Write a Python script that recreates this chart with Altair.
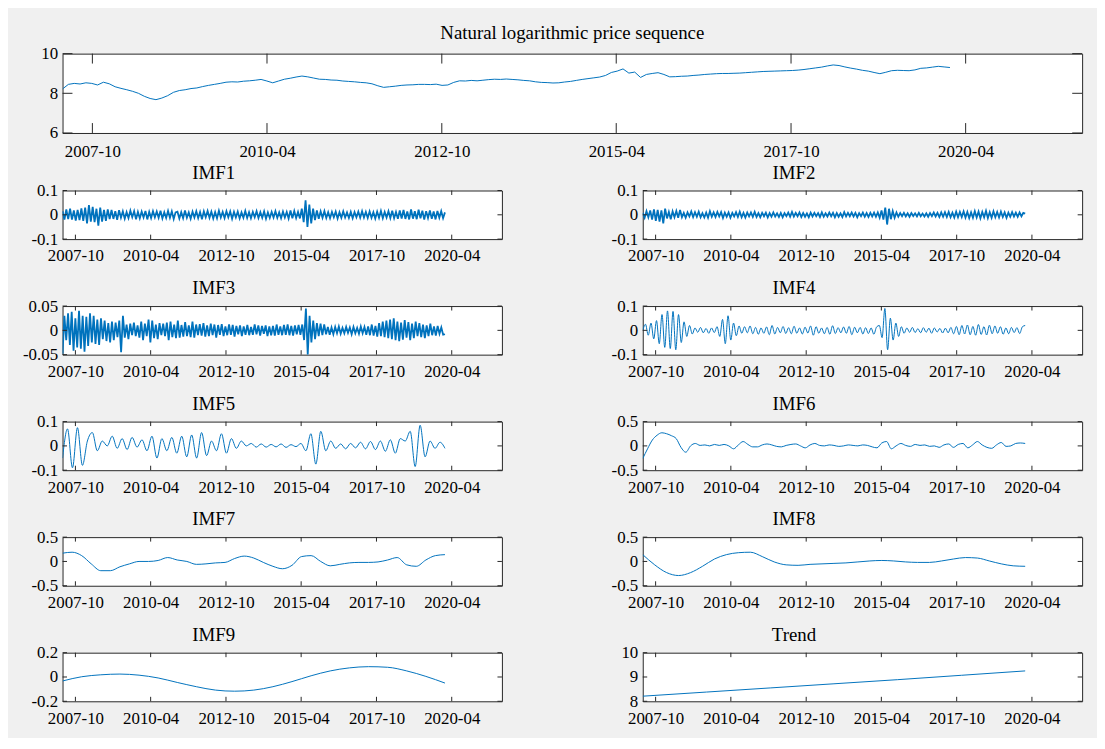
import altair as alt
import pandas as pd

FONT = "Liberation Serif"
BLUE = "#0072BD"
AX = "#262626"
BG = "#f0f0f0"

# ---------------- data ----------------
x_tick_labels = ["2007-10", "2010-04", "2012-10", "2015-04", "2017-10", "2020-04"]
data_start = "2007-04-28"
data_end = "2020-01-10"

# Natural log price, monthly readings
price = [8.22, 8.45, 8.50, 8.47, 8.53, 8.50, 8.42, 8.56, 8.48, 8.33,
         8.25, 8.18, 8.10, 8.00, 7.85, 7.74, 7.68, 7.76, 7.88, 8.05,
         8.14, 8.18, 8.24, 8.27, 8.34, 8.40, 8.45, 8.50, 8.56, 8.58,
         8.57, 8.61, 8.63, 8.66, 8.70, 8.62, 8.53, 8.62, 8.71, 8.76,
         8.82, 8.87, 8.83, 8.77, 8.71, 8.70, 8.67, 8.66, 8.62, 8.60,
         8.58, 8.55, 8.53, 8.48, 8.38, 8.30, 8.33, 8.36, 8.40, 8.42,
         8.43, 8.45, 8.45, 8.44, 8.46, 8.40, 8.42, 8.55, 8.63, 8.62,
         8.65, 8.63, 8.66, 8.69, 8.71, 8.70, 8.72, 8.70, 8.68, 8.65,
         8.63, 8.58, 8.55, 8.54, 8.52, 8.53, 8.57, 8.60, 8.65, 8.70,
         8.74, 8.78, 8.82, 8.90, 9.05, 9.12, 9.23, 9.02, 9.07, 8.80,
         8.95, 9.00, 9.04, 8.95, 8.83, 8.84, 8.86, 8.87, 8.90, 8.92,
         8.95, 8.97, 8.99, 9.00, 9.00, 9.01, 9.02, 9.04, 9.06, 9.08,
         9.10, 9.11, 9.12, 9.13, 9.14, 9.15, 9.17, 9.20, 9.24, 9.28,
         9.32, 9.38, 9.43, 9.40, 9.33, 9.27, 9.22, 9.16, 9.12, 9.05,
         8.99, 9.06, 9.14, 9.16, 9.15, 9.14, 9.18, 9.26, 9.28, 9.32,
         9.36, 9.33, 9.30]

# IMF values in thousandths
imf1_milli = [15, -20, 22, -18, 25, -20, 18, -24, 20, -22, 26, -25, 30, -35, 40, -28, 33, -30, 25, -45, 30, -28, 20, -25, 22, -18, 20, -17, 15, -21, 19,
              -12, 14, -16, 11, -13, 17, -10, 15, -18, 12, -14, 13, -11, 16, -19, 12, -13, 15, -10, 14, -12, 17, -15, 11, -13, 16, -12, 14, -17, 10,
              13, -15, 11, -14, 18, -12, 10, -16, 13, -11, 15, -13, 12, -18, 14, -10, 16, -12, 13, -15, 11, -14, 17, -11, 12, -13, 15, -10, 14, -16,
              12, -11, 13, -15, 10, -12, 16, -13, 11, -14, 12, -10, 15, -13, 11, -12, 14, -16, 10, -13, 12, -11, 15, -12, 10, -14, 13, -11, 12, -15, 18, -14, 16, -13, 12, -15,
              25, -30, 60, -50, 42, -35,
              25, -22, 18, -16, 14, -12, 15, -13, 11, -14, 12, -10, 13, -15, 11, -12, 14, -11, 10, -13, 12, -14, 11, -10, 13, -12, 15, -11, 12, -13, 14, -12,
              11, -15, 13, -12, 16, -14, 12, -11, 15, -13, 17, -14, 12, -16, 18, -15, 20, -17, 14, -19, 22, -16, 15, -18, 21, -14, 17, -20, 15, -13, 18, -16, 14, -19, 16, -12, 15, -14, 10]

imf2_milli = [8, -12, 15, -10, 18, -20, 22, -25, 20, -28, 18, -35, 25, -15, 12, -18, 14, -10, 16, -12, 20,
              -10, 8, -12, 10, -7, 14, -9, 11, -8, 13, -10, 7, -11, 9, -12, 15, -8, 10, -9, 12, -7, 11, -13, 9, -8, 10, -12, 8, -7, 11, -9, 13, -10, 8, -11, 9, -7, 10, -8, 12,
              -9, 7, -10, 8, -6, 9, -11, 7, -8, 10, -7, 6, -9, 8, -10, 7, -6, 9, -8, 12, -7, 8, -6, 10, -9, 7, -8, 6, -10, 9, -7, 8, -6, 7, -9, 10, -8, 6, -7, 9, -6, 8, -10, 7, -8, 6, -9, 11, -7, 8, -6, 9, -7, 8, -10, 7, -6, 9, -8, 7, -9, 8, -7, 9, -8, 10,
              -12, 18, -20, 30, -40, 25, -18, 15, -12, 10,
              -8, 7, -6, 8, -7, 6, -8, 7, -5, 6, -7, 8, -6, 5, -7, 6, -8, 7, -6, 9, -7, 8, -9, 10, -8, 11, -9, 12, -10, 9, -11, 13, -10, 12, -9, 14, -11, 12, -13, 10,
              -12, 15, -11, 13, -14, 12, -10, 16, -13, 11, -12, 14, -10, 12, -11, 13, -9, 10, -12, 9, -8, 11, -7, 9, -8, 10, -6, 8, 5]

imf3_milli = [-48, 30, -20, 35, -30, 38, -42, 25, -35, 40, -38, 30, -44, 28, -32, 35, -25, 30, -28, 22, -30,
              25, -18, 20, -22, 15, -25, 18, -20, 16, -14, 20, -45, 30, -15, 12, -18, 14, -10, 16, -12,
              10, -15, 18, -20, 14, -12, 22, -25, 20, -16, 12, -18, 15, -10, 14, -12, 16, -20, 18, -14, 12, -16, 20, -15, 11, -13, 17, -12, 10, -14, 18, -15, 12, -10, 13, -11, 15, -13, 10, -12,
              14, -10, 12, -15, 11, -9, 13, -12, 8, -10, 12, -9, 11, -13, 9, -8, 10, -12, 8, -9, 11, -10, 7, -9, 12, -8, 10, -11, 9, -7, 10, -12, 8, -10, 9, -11, 12, -9, 8, -10, 11, -9, 12, -10, 9, -11, 10, -8, 11, -9,
              12, -20, 45, -50, 30, -25, 20, -18, 15, -12,
              14, -10, 12, -8, 7, -9, 6, -8, 7, -6, 8, -7, 5, -6, 7, -5, 6, -8, 7, -6, 5, -7, 8, -6, 7, -9, 8, -10, 12, -11, 9, -13, 15, -12, 18, -14, 20, -16, 22, -18,
              25, -20, 18, -22, 16, -19, 21, -15, 17, -20, 14, -16, 18, -12, 15, -14, 12, -16, 10, -12, 14, -10, 8, -11, 9, -7, 6, -9, -8]

imf4_milli = [0, 25, -20, 30, -35, 40, -55, 65, -70, 80, -75, 78, -80, 65, -50, 35, -25, 20, -15,
              10, -8, 12, -10, 8, -12, 10, -9, 15,
              -25, 45, -55, 60, -40, 30, -22, 18,
              -12, 15, -10, 18, -14, 12, -16, 10, -12, 14, -18, 20, -15, 12, -10, 16, -13, 11, -14, 17, -12, 10, -15, 13, -11, 18, -20, 15, -12, 10, -14, 12, -16, 19, -13, 11, -10, 14, -12, 16, -18, 13, -10, 12, -15, 11, -13, 10, -16, 14,
              20, -30, 90, -80, 50, -40, 30, -25, 15, -12,
              10, -8, 12, -9, 7, -10, 11, -8, 9, -12, 10, -7, 8, -11, 9, -10, 12, -14, 16, -18, 20, -15, 22, -18, 16, -20, 24, -17, 15, -19, 21, -14, 18, -12, 15, -16, 10, -14, 12, -9, 11, -13, 15, 20]

imf5_milli = [-50, 70, -90, 75, -80, 20, 55, -20, 20, 0, 40, -10, 30, -15, 35, -5, 25, -20, 40, -50,
              30, -20, 35, -30, 40, -45, 45, -50, 55, -40, 20, -20, 50, -30, 30, -10, 20, 0, 10, -5,
              8, -5, 6, -4, 8, -6, 5, -3, 10, -20, 50, -75, 60, -20, 20, -10, 8, -12, 10, -8,
              15, -12, 18, -15, 20, -22, 25, -30, 30, 20, 60, -85, 85, -45, 20, -10, 15, -10]

# IMF values in hundredths
imf6_centi = [-26, -6, 12, 22, 27, 25, 21, 15, -3, -13, 0, 5, 1, 2, 0, 3, 1, 3, 0, -6,
              2, 9, 3, -2, -2, 2, 4, 2, -1, -2, 1, 3, 4, 0, -4, 2, 5, 1, 0, 2,
              1, -1, 0, 2, 1, 0, 2, 1, -2, -4, 6, 9, -6, 0, 5, 1, -1, 3, 1, 2,
              -1, 0, -3, 2, 4, -3, 3, 5, -4, 2, 9, 2, -3, -5, 2, 7, -1, 0, 5, 6, 5]

imf7_centi = [17, 19, 12, -5, -19, -19, -11, -5, 0, 0, 2, 8, 3, 0, -6, -5, -3, -2, 6, 11,
              7, -2, -10, -15, -8, 10, 12, 0, -9, -6, -3, -2, -2, -1, 3, 8, -7, -10, 3, 12, 14]

imf8_centi = [14, -7, -23, -29, -23, -10, 5, 14, 18, 19, 10, -1, -7, -8, -6, -5, -4, -3, -1, 1,
              2, 1, -1, -2, -2, 1, 5, 8, 7, 1, -5, -9, -10]

imf9_milli = [-33, 2, 18, 24, 15, -8, -45, -80, -108, -117, -108, -80, -38, 10, 50, 75, 85, 80, 50, 5, -50]

trend = [8.21, 8.38, 8.55, 8.72, 8.89, 9.07, 9.25]


def series(vals, unit=1.0):
    dates = pd.date_range(data_start, data_end, periods=len(vals))
    return pd.DataFrame({"date": dates.strftime("%Y-%m-%dT%H:%M:%S"),
                         "value": [v * unit for v in vals]})


X_DOMAIN = [alt.DateTime(year=2007, month=4, date=28), alt.DateTime(year=2021, month=12, date=1)]
X_VALUES = [alt.DateTime(year=int(t[:4]), month=int(t[5:]), date=1) for t in x_tick_labels]
xticks_df = pd.DataFrame({"date": [t + "-01T00:00:00" for t in x_tick_labels]})

LABEL_SIZE = 17
TITLE_SIZE = 19


def panel(df, title, ydom, yticks, w, h, tl, interp="linear", sw=1.0, xpad=9, tdx=-69, toff=-1):
    X = alt.X("date:T", scale=alt.Scale(domain=X_DOMAIN),
              axis=alt.Axis(values=X_VALUES, format="%Y-%m", labelFont=FONT, labelFontSize=LABEL_SIZE,
                            labelColor="black", labelPadding=xpad, ticks=False, tickSize=0, domain=False,
                            grid=False, title=None, labelAngle=0, labelOverlap=False, labelFlush=False))
    Y = alt.Y("value:Q", scale=alt.Scale(domain=ydom, nice=False, zero=False),
              axis=alt.Axis(values=yticks, labelExpr="toString(datum.value)", labelFont=FONT,
                            labelFontSize=LABEL_SIZE, labelColor="black", labelPadding=5, ticks=False,
                            tickSize=0, domain=False, grid=False, title=None, labelFlush=False,
                            labelOverlap=False))
    line = alt.Chart(df).mark_line(color=BLUE, strokeWidth=sw, interpolate=interp, clip=True).encode(x=X, y=Y)
    xt = alt.Chart(xticks_df)
    t_top = xt.mark_rule(color=AX, strokeWidth=1).encode(x=X, y=alt.value(0), y2=alt.value(tl))
    t_bot = xt.mark_rule(color=AX, strokeWidth=1).encode(x=X, y=alt.value(h - tl), y2=alt.value(h))
    yt = alt.Chart(pd.DataFrame({"value": yticks}))
    t_left = yt.mark_rule(color=AX, strokeWidth=1).encode(y=Y, x=alt.value(0), x2=alt.value(tl))
    t_right = yt.mark_rule(color=AX, strokeWidth=1).encode(y=Y, x=alt.value(w - tl), x2=alt.value(w))
    return alt.layer(line, t_top, t_bot, t_left, t_right).properties(
        width=w, height=h,
        title=alt.TitleParams(title, font=FONT, fontSize=TITLE_SIZE, fontWeight="normal",
                              color="black", offset=toff, anchor="middle", dx=tdx))


PW, PH, TL = 443, 49, 4.5
DENSE = 1.8

top = panel(series(price), "Natural logarithmic price sequence", [6, 10], [6, 8, 10], 1028, 80, 10,
            xpad=11, tdx=0, toff=2)

p1 = panel(series(imf1_milli, 0.001), "IMF1", [-0.1, 0.1], [-0.1, 0, 0.1], PW, PH, TL, sw=DENSE)
p2 = panel(series(imf2_milli, 0.001), "IMF2", [-0.1, 0.1], [-0.1, 0, 0.1], PW, PH, TL, sw=DENSE)
p3 = panel(series(imf3_milli, 0.001), "IMF3", [-0.05, 0.05], [-0.05, 0, 0.05], PW, PH, TL, sw=DENSE)
p4 = panel(series(imf4_milli, 0.001), "IMF4", [-0.1, 0.1], [-0.1, 0, 0.1], PW, PH, TL, "monotone")
p5 = panel(series(imf5_milli, 0.001), "IMF5", [-0.1, 0.1], [-0.1, 0, 0.1], PW, PH, TL, "monotone")
p6 = panel(series(imf6_centi, 0.01), "IMF6", [-0.5, 0.5], [-0.5, 0, 0.5], PW, PH, TL, "monotone")
p7 = panel(series(imf7_centi, 0.01), "IMF7", [-0.5, 0.5], [-0.5, 0, 0.5], PW, PH, TL, "monotone")
p8 = panel(series(imf8_centi, 0.01), "IMF8", [-0.5, 0.5], [-0.5, 0, 0.5], PW, PH, TL, "monotone")
p9 = panel(series(imf9_milli, 0.001), "IMF9", [-0.2, 0.2], [-0.2, 0, 0.2], PW, PH, TL, "monotone")
p10 = panel(series(trend), "Trend", [8, 10], [8, 9, 10], PW, PH, TL)

# In flush layout, nested concat rows count as zero height, so the spacing is the row pitch.
rows = [alt.hconcat(a, b, spacing=142, bounds="flush")
        for a, b in [(p1, p2), (p3, p4), (p5, p6), (p7, p8), (p9, p10)]]
lower = alt.vconcat(*rows, spacing=116.5, bounds="flush")

chart = alt.vconcat(top, lower, spacing=58, bounds="flush").properties(
    background=BG,
    padding={"left": 14, "top": 12, "right": 14, "bottom": 8},
).configure_view(stroke=AX, strokeWidth=1, fill="white")

chart.save("out.html", embed_options={"renderer": "svg", "actions": False})
